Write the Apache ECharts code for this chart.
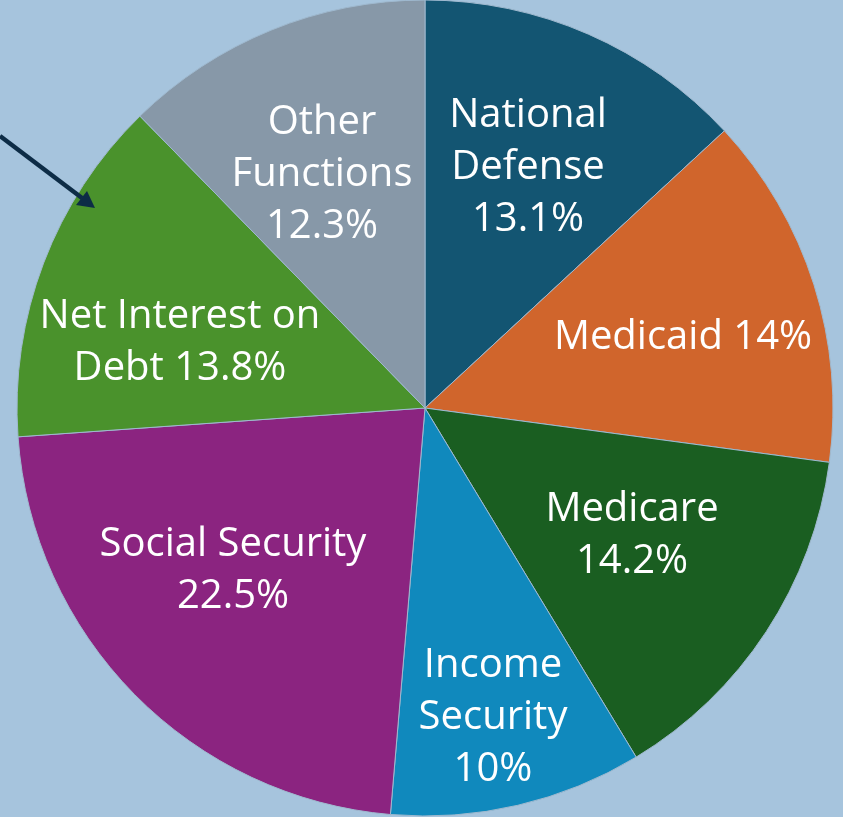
<!DOCTYPE html>
<html>
<head>
<meta charset="utf-8">
<style>
  html, body { margin: 0; padding: 0; background: #a6c4dd; }
  #chart { width: 843px; height: 817px; }
</style>
<script src="https://cdn.jsdelivr.net/npm/echarts@6/dist/echarts.min.js"></script>
</head>
<body>
<div id="chart"></div>
<script>
// Budget shares by function, clockwise from 12 o'clock
const categories = [
  'National Defense',
  'Medicaid',
  'Medicare',
  'Income Security',
  'Social Security',
  'Net Interest on Debt',
  'Other Functions'
];
const shares = [13.1, 14, 14.2, 10, 22.5, 13.8, 12.3];

// Text shown inside each slice (line breaks as displayed)
const sliceLabels = [
  'National\nDefense\n13.1%',
  'Medicaid 14%',
  'Medicare\n14.2%',
  'Income\nSecurity\n10%',
  'Social Security\n22.5%',
  'Net Interest on\nDebt 13.8%',
  'Other\nFunctions\n12.3%'
];

const sliceColors = ['#135572', '#d0652c', '#1a5e21', '#1089bd', '#8b2480', '#4a922c', '#8798a8'];

// Label anchor offsets from the pie centre, in pixels
const labelOffsets = [
  [103, -240], [258, -70], [207, 128], [68, 310], [-192, 163], [-245, -65], [-103, -233]
];

const CX = 425, CY = 408, R = 408;

const chart = echarts.init(document.getElementById('chart'), null, { renderer: 'canvas' });

chart.setOption({
  backgroundColor: '#a6c4dd',
  animation: false,
  series: [{
    type: 'pie',
    center: [CX, CY],
    radius: [0, R],
    startAngle: 90,
    clockwise: true,
    silent: true,
    data: categories.map((name, i) => ({
      name,
      value: shares[i],
      itemStyle: { color: sliceColors[i] },
      label: { formatter: sliceLabels[i] }
    })),
    itemStyle: { borderColor: '#9fb9cf', borderWidth: 1 },
    label: {
      show: true,
      position: 'inside',
      color: '#ffffff',
      fontFamily: 'Open Sans',
      fontSize: 40,
      lineHeight: 52,
      align: 'center'
    },
    labelLine: { show: false },
    labelLayout: function (params) {
      const off = labelOffsets[params.dataIndex];
      return { x: CX + off[0], y: CY + off[1], align: 'center', verticalAlign: 'middle' };
    }
  }],
  // Pointer arrow at the upper left, drawn above the pie
  graphic: [
    {
      type: 'line',
      z: 100,
      shape: { x1: 0, y1: 136, x2: 82, y2: 198 },
      style: { stroke: '#0d2c46', lineWidth: 4.5 }
    },
    {
      type: 'polygon',
      z: 100,
      shape: { points: [[95, 208], [76, 205], [87, 191]] },
      style: { fill: '#0d2c46' }
    }
  ]
});
</script>
</body>
</html>
